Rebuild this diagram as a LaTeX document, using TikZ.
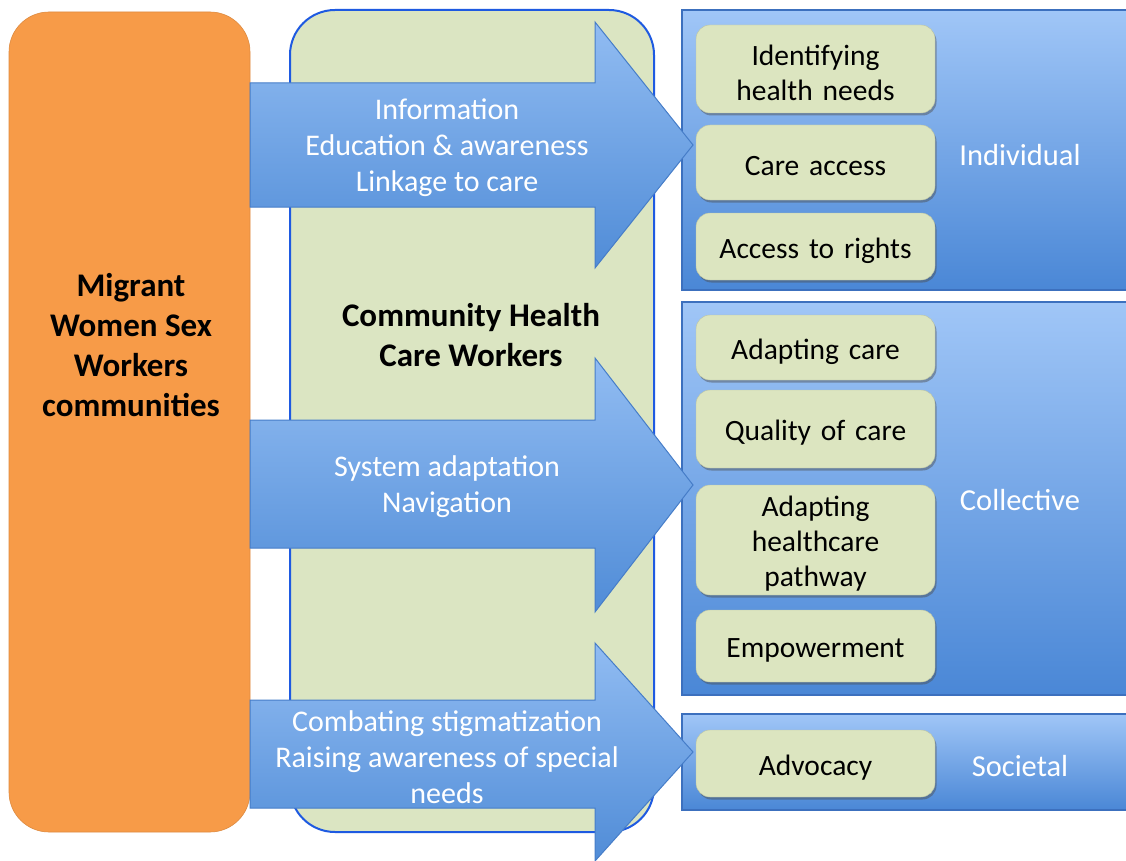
\documentclass[tikz,border=0pt]{standalone}
\usepackage{fontspec}
\setmainfont{Carlito}
\usetikzlibrary{shadows}
\definecolor{orangefill}{RGB}{247,155,72}
\definecolor{greenfill}{RGB}{219,229,194}
\definecolor{greenborder}{RGB}{30,90,225}
\definecolor{panelTop}{RGB}{160,198,247}
\definecolor{panelBot}{RGB}{74,135,214}
\definecolor{panelEdge}{RGB}{60,112,190}
\definecolor{arrowTop}{RGB}{145,188,242}
\definecolor{arrowBot}{RGB}{80,140,215}
\definecolor{arrowEdge}{RGB}{70,125,200}
\definecolor{itemfill}{RGB}{220,229,192}
\tikzset{
  panel/.style={draw=panelEdge, line width=1.2pt, top color=panelTop, bottom color=panelBot},
  itembox/.style={fill=itemfill, draw=itemfill!85!black, line width=0.4pt, rounded corners=14pt,
    minimum width=239pt, inner sep=0pt,
    drop shadow={shadow xshift=1.5pt, shadow yshift=-2.5pt, opacity=0.45, fill=black!70}},
  itemtext/.style={text width=235pt, align=center, inner sep=0pt, yshift=-4pt,
    font=\fontsize{29.5}{35}\selectfont, text=black},
  blockarrow/.style={draw=arrowEdge, line width=1pt, top color=arrowTop, bottom color=arrowBot},
  arrowtext/.style={text=white, align=center, font=\fontsize{30}{36}\selectfont},
  leveltext/.style={text=white, font=\fontsize{30.5}{34}\selectfont},
  bigtext/.style={text=black, align=center, font=\bfseries\fontsize{33}{40}\selectfont},
}
\begin{document}
\begin{tikzpicture}[x=1pt,y=-1pt]
\useasboundingbox (0,0) rectangle (1126,861);
\fill[white] (0,0) rectangle (1126,861);

% orange community box
\draw[fill=orangefill, draw=orangefill!90!black, line width=0.6pt, rounded corners=40pt] (9,12) rectangle (250,832);
\node[bigtext] (mig) at (131,345) {Migrant\\Women Sex\\Workers\\communities};

% green CHW box
\draw[fill=greenfill, draw=greenborder, line width=2pt, rounded corners=45pt] (290,10) rectangle (654,832);
\node[bigtext] (chw) at (471,335) {Community Health\\Care Workers};

% right panels
\draw[panel] (682,10) rectangle (1130,290);
\draw[panel] (682,302) rectangle (1130,695);
\draw[panel] (682,714) rectangle (1130,810);

% item boxes
\node[itembox, minimum height=88pt] (b1) at (815.5,69) {};
\node[itembox, minimum height=75pt] (b2) at (815.5,162.5) {};
\node[itembox, minimum height=67pt] (b3) at (815.5,246.5) {};
\node[itembox, minimum height=65pt] (b4) at (815.5,347.5) {};
\node[itembox, minimum height=78pt] (b5) at (815.5,429) {};
\node[itembox, minimum height=110pt] (b6) at (815.5,540) {};
\node[itembox, minimum height=72pt] (b7) at (815.5,646) {};
\node[itembox, minimum height=67pt] (b8) at (815.5,763.5) {};
% item texts
\node[itemtext] (i1) at (b1.center) {Identifying\\health needs};
\node[itemtext] (i2) at (b2.center) {Care access};
\node[itemtext] (i3) at (b3.center) {Access to rights};
\node[itemtext] (c1) at (b4.center) {Adapting care};
\node[itemtext] (c2) at (b5.center) {Quality of care};
\node[itemtext] (c3) at (b6.center) {Adapting\\healthcare\\pathway};
\node[itemtext] (c4) at (b7.center) {Empowerment};
\node[itemtext] (s1) at (b8.center) {Advocacy};

\node[leveltext] (lind) at (1020,155) {Individual};
\node[leveltext] (lcol) at (1020,500) {Collective};
\node[leveltext] (lsoc) at (1020,766) {Societal};

% block arrows
\draw[blockarrow] (250,83) -- (595,83) -- (595,22) -- (693,145) -- (595,268) -- (595,207) -- (250,207) -- cycle;
\draw[blockarrow] (250,420) -- (595,420) -- (595,358) -- (693,485) -- (595,612) -- (595,548) -- (250,548) -- cycle;
\draw[blockarrow] (250,700) -- (595,700) -- (595,643) -- (693,752) -- (595,861) -- (595,808) -- (250,808) -- cycle;

\node[arrowtext] (a1) at (447,148) {Information\\Education \& awareness\\Linkage to care};
\node[arrowtext] (a2) at (447,487) {System adaptation\\Navigation};
\node[arrowtext] (a3) at (447,757) {Combating stigmatization\\Raising awareness of special\\needs};
\end{tikzpicture}
\end{document}
